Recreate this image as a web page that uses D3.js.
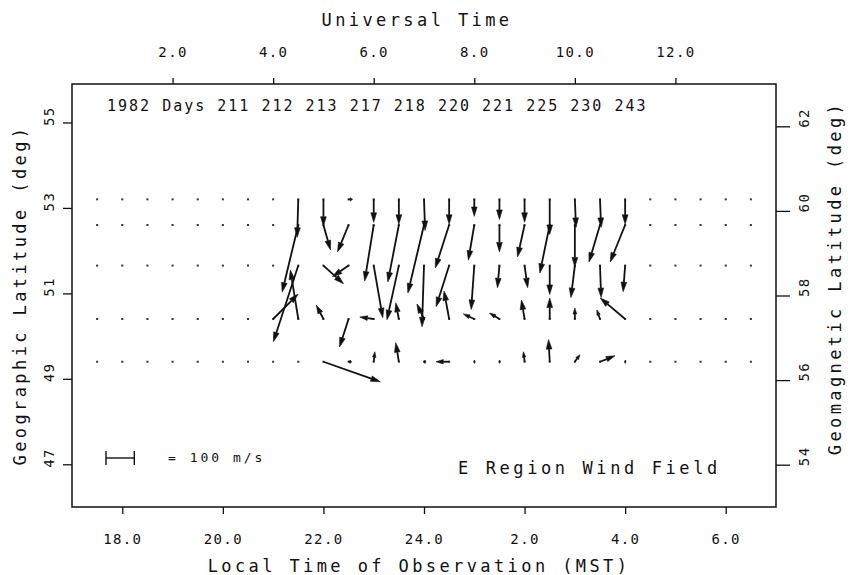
<!DOCTYPE html>
<html>
<head>
<meta charset="utf-8">
<script src="https://cdn.jsdelivr.net/npm/d3@7"></script>
<style>
  body { margin: 0; background: #fff; }
  svg { display: block; }
  text { font-family: "DejaVu Sans Mono", monospace; fill: #111; font-feature-settings: "zero" 1; }
</style>
</head>
<body>
<svg id="chart"></svg>
<script>
var width = 848;
var height = 575;

// grid of observation points: local time (hours, 24+ = next day) and geographic latitude
var gridLT = [17.5, 18, 18.5, 19, 19.5, 20, 20.5, 21, 21.5, 22, 22.5, 23, 23.5, 24,
              24.5, 25, 25.5, 26, 26.5, 27, 27.5, 28, 28.5, 29, 29.5, 30, 30.5];
var gridLat = [53.2, 52.6, 51.65, 50.4, 49.4];

// axis ticks
var ltTicks = [18, 20, 22, 24, 26, 28, 30];
var ltLabels = ["18.0", "20.0", "22.0", "24.0", "2.0", "4.0", "6.0"];
var utTicks = [2, 4, 6, 8, 10, 12];
var utLabels = ["2.0", "4.0", "6.0", "8.0", "10.0", "12.0"];
var geoTicks = [47, 49, 51, 53, 55];
var magTicks = [54, 56, 58, 60, 62];

var dayNumbers = [211, 212, 213, 217, 218, 220, 221, 225, 230, 243];

// wind vectors: [local time, geographic lat, eastward m/s, northward m/s]
var winds = [
  [21.0, 50.4, 88, 88],
  [21.5, 53.2, -4, -134], [21.5, 52.6, -57, -237], [21.5, 51.65, -88, -269], [21.5, 50.4, -28, 173],
  [22.0, 53.2, 0, -95], [22.0, 52.6, 25, -88], [22.0, 51.65, 71, -64], [22.0, 50.4, -25, 49], [22.0, 49.4, 201, -71],
  [22.5, 53.2, 14, 0], [22.5, 52.6, -39, -95], [22.5, 51.65, -57, -39], [22.5, 50.4, -32, -99], [22.5, 49.4, 11, 0],
  [23.0, 53.2, 0, -81], [23.0, 52.6, -32, -198], [23.0, 51.65, 32, -184], [23.0, 50.4, -49, 7], [23.0, 49.4, 4, 35],
  [23.5, 53.2, 0, -88], [23.5, 52.6, -39, -201], [23.5, 51.65, -42, -191], [23.5, 50.4, -11, 57], [23.5, 49.4, -11, 67],
  [24.0, 53.2, 4, -110], [24.0, 52.6, -57, -240], [24.0, 51.65, -7, -216], [24.0, 50.4, -25, 53], [24.0, 49.4, 7, 0],
  [24.5, 53.2, 0, -88], [24.5, 52.6, -49, -152], [24.5, 51.65, -46, -145], [24.5, 50.4, -18, 99], [24.5, 49.4, -46, 0],
  [25.0, 53.2, 0, -60], [25.0, 52.6, -21, -124], [25.0, 51.65, -11, -155], [25.0, 50.4, -39, 18], [25.0, 49.4, 2, 0],
  [25.5, 53.2, 0, -71], [25.5, 52.6, 0, -95], [25.5, 51.65, -7, -78], [25.5, 50.4, -35, 21], [25.5, 49.4, 2, 0],
  [26.0, 53.2, 0, -81], [26.0, 52.6, -25, -113], [26.0, 51.65, 11, -78], [26.0, 50.4, -11, 67], [26.0, 49.4, -4, 35],
  [26.5, 53.2, 0, -124], [26.5, 52.6, -35, -170], [26.5, 51.65, 0, -102], [26.5, 50.4, 0, 74], [26.5, 49.4, -4, 78],
  [27.0, 53.2, 4, -99], [27.0, 52.6, 0, -148], [27.0, 51.65, -14, -113], [27.0, 50.4, 0, 39], [27.0, 49.4, 18, 25],
  [27.5, 53.2, 4, -99], [27.5, 52.6, -39, -131], [27.5, 51.65, 4, -113], [27.5, 50.4, -11, 32], [27.5, 49.4, 53, 21],
  [28.0, 53.2, 0, -88], [28.0, 52.6, -53, -131], [28.0, 51.65, -7, -92], [28.0, 50.4, -88, 74], [28.0, 49.4, 2, 0]
];

var svg = d3.select("#chart")
    .attr("width", width)
    .attr("height", height);

// plot box (window.top is reserved, so no bare "top")
var box = { left: 72, right: 776, top: 84, bottom: 507 };

var x = d3.scaleLinear().domain([17, 31]).range([box.left, box.right]);
var xUT = d3.scaleLinear().domain([0, 14]).range([box.left, box.right]);
var yGeo = d3.scaleLinear().domain([46, 55.9]).range([box.bottom, box.top]);
var yMag = d3.scaleLinear().domain([53, 63]).range([box.bottom, box.top]);
var speed = d3.scaleLinear().domain([0, 100]).range([0, 28.3]);

// frame
svg.append("rect")
    .attr("x", box.left).attr("y", box.top)
    .attr("width", box.right - box.left).attr("height", box.bottom - box.top)
    .attr("fill", "none").attr("stroke", "#111").attr("stroke-width", 1.5);

function styleAxis(g) {
  g.select(".domain").remove();
  g.selectAll("line").attr("stroke", "#111").attr("stroke-width", 1.3);
  g.selectAll("text").attr("fill", "#111")
    .style("font-family", "DejaVu Sans Mono")
    .style("font-size", "14px")
    .style("letter-spacing", "1.4px");
}

svg.append("g")
    .attr("transform", "translate(0," + box.bottom + ")")
    .call(d3.axisBottom(x).tickValues(ltTicks).tickSize(7).tickPadding(0)
      .tickFormat(function(d, i) { return ltLabels[i]; }))
    .call(styleAxis)
    .selectAll("text").attr("y", 37).attr("dy", 0);

svg.append("g")
    .attr("transform", "translate(0," + box.top + ")")
    .call(d3.axisTop(xUT).tickValues(utTicks).tickSize(6).tickPadding(0)
      .tickFormat(function(d, i) { return utLabels[i]; }))
    .call(styleAxis)
    .selectAll("text").attr("y", -27).attr("dy", 0);

svg.append("g")
    .attr("transform", "translate(" + box.left + ",0)")
    .call(d3.axisLeft(yGeo).tickValues(geoTicks).tickSize(9))
    .call(styleAxis)
    .selectAll("text")
      .attr("x", null).attr("dy", null)
      .attr("text-anchor", "start")
      .attr("transform", "translate(-18,3) rotate(-90)");

svg.append("g")
    .attr("transform", "translate(" + box.right + ",0)")
    .call(d3.axisRight(yMag).tickValues(magTicks).tickSize(14))
    .call(styleAxis)
    .selectAll("text")
      .attr("x", null).attr("dy", null)
      .attr("text-anchor", "start")
      .attr("transform", "translate(33,1) rotate(-90)");

// titles
var titleStyle = function(t) {
  t.style("font-size", "17px").style("letter-spacing", "3.4px");
};
svg.append("text").attr("x", 417).attr("y", 26)
    .attr("text-anchor", "middle").call(titleStyle).text("Universal Time");
svg.append("text").attr("x", 419).attr("y", 572)
    .attr("text-anchor", "middle").call(titleStyle).text("Local Time of Observation (MST)");
svg.append("text").attr("transform", "translate(26,295) rotate(-90)")
    .attr("text-anchor", "middle").call(titleStyle).text("Geographic Latitude (deg)");
svg.append("text").attr("transform", "translate(841,278) rotate(-90)")
    .attr("text-anchor", "middle").call(titleStyle).text("Geomagnetic Latitude (deg)");

svg.append("text").attr("x", 107).attr("y", 111)
    .style("font-size", "15px").style("letter-spacing", "2px")
    .text("1982 Days " + dayNumbers.join(" "));

svg.append("text").attr("x", 458).attr("y", 474)
    .style("font-size", "17px").style("letter-spacing", "3.6px")
    .text("E Region Wind Field");

// scale legend
var legX = 106, legY = 458;
var legend = svg.append("g").attr("stroke", "#111").attr("stroke-width", 1.4);
legend.append("line").attr("x1", legX).attr("x2", legX + speed(100)).attr("y1", legY).attr("y2", legY);
legend.append("line").attr("x1", legX).attr("x2", legX).attr("y1", legY - 7).attr("y2", legY + 7);
legend.append("line").attr("x1", legX + speed(100)).attr("x2", legX + speed(100)).attr("y1", legY - 7).attr("y2", legY + 7);
svg.append("text").attr("x", 168).attr("y", 462)
    .style("font-size", "13px").style("letter-spacing", "3px")
    .text("= 100 m/s");

// grid dots
var points = [];
gridLat.forEach(function(lat) {
  gridLT.forEach(function(lt) { points.push([lt, lat]); });
});
svg.append("g").selectAll("rect")
    .data(points)
  .enter().append("rect")
    .attr("x", function(d) { return x(d[0]) - 1; })
    .attr("y", function(d) { return yGeo(d[1]) - 1; })
    .attr("width", 2).attr("height", 2)
    .attr("fill", "#333");

// wind arrows
var arrows = svg.append("g").selectAll("g")
    .data(winds)
  .enter().append("g");

arrows.each(function(d) {
  var g = d3.select(this);
  var x0 = x(d[0]), y0 = yGeo(d[1]);
  var dx = speed(d[2]), dy = -speed(d[3]);
  var len = Math.sqrt(dx * dx + dy * dy);
  if (len < 0.5) return;
  var ux = dx / len, uy = dy / len;
  var h = Math.min(9.5, len * 0.55), w = Math.max(1.7, h * 0.3);
  var bx = x0 + dx - ux * h, by = y0 + dy - uy * h;
  g.append("line")
    .attr("x1", x0).attr("y1", y0).attr("x2", bx).attr("y2", by)
    .attr("stroke", "#111").attr("stroke-width", 1.8);
  g.append("path")
    .attr("d", "M" + (x0 + dx) + "," + (y0 + dy) +
               "L" + (bx - uy * w) + "," + (by + ux * w) +
               "L" + (bx + uy * w) + "," + (by - ux * w) + "Z")
    .attr("fill", "#111").attr("stroke", "#111").attr("stroke-width", 0.6);
});
</script>
</body>
</html>
